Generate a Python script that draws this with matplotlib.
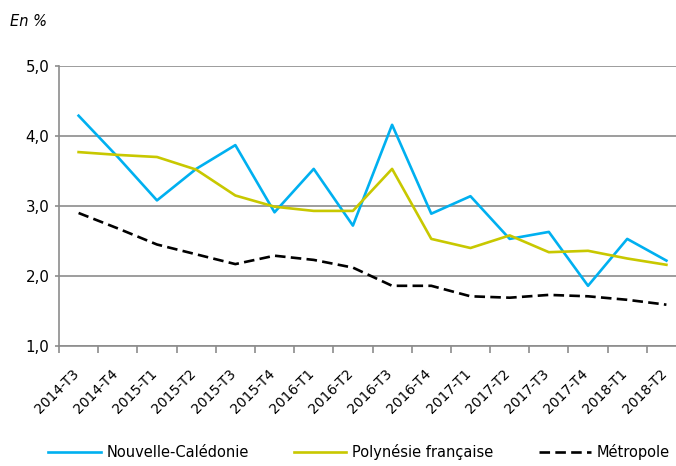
import numpy as np
import matplotlib
matplotlib.use("Agg")
import matplotlib.pyplot as plt
import matplotlib.transforms as mtransforms

# quarterly rates, in %
quarters = ["2014-T3", "2014-T4", "2015-T1", "2015-T2", "2015-T3", "2015-T4",
            "2016-T1", "2016-T2", "2016-T3", "2016-T4", "2017-T1", "2017-T2",
            "2017-T3", "2017-T4", "2018-T1", "2018-T2"]
nouvelle_caledonie = [4.29, 3.70, 3.08, 3.53, 3.87, 2.91, 3.53, 2.72,
                      4.16, 2.89, 3.14, 2.53, 2.63, 1.86, 2.53, 2.22]
polynesie = [3.77, 3.73, 3.70, 3.52, 3.15, 2.99, 2.93, 2.93,
             3.53, 2.53, 2.40, 2.58, 2.34, 2.36, 2.25, 2.16]
metropole = [2.90, 2.68, 2.45, 2.31, 2.17, 2.29, 2.23, 2.12,
             1.86, 1.86, 1.71, 1.69, 1.73, 1.71, 1.66, 1.59]

plt.rcParams['font.family'] = ['DejaVu Sans']

fig = plt.figure(figsize=(6.76, 4.66), dpi=100)
# right edge of the plot runs past the picture, as in the original
ax = fig.add_axes([59 / 676, 120 / 466, 627 / 676, 280 / 466])

x = np.arange(len(quarters))
grid_col = "#8c8c8c"

ax.plot(x, nouvelle_caledonie, color="#00b0f0", lw=1.9, label="Nouvelle-Calédonie")
ax.plot(x, polynesie, color="#c8c800", lw=1.9, label="Polynésie française")
ax.plot(x, metropole, color="black", lw=1.9, ls=(0, (4, 2)), label="Métropole")

ax.set_xlim(-0.5, len(quarters) - 0.5)
ax.set_ylim(1.0, 5.0)
ax.set_yticks([1.0, 2.0, 3.0, 4.0, 5.0])
ax.set_yticklabels(["1,0", "2,0", "3,0", "4,0", "5,0"], fontsize=10.8)
ax.yaxis.grid(True, color=grid_col, lw=1.2)
ax.set_axisbelow(True)

ax.set_xticks(x)
ax.set_xticklabels(quarters, rotation=45, ha="right", va="top", fontsize=10)
ax.set_xticks(np.arange(-0.5, len(quarters), 1.0), minor=True)
ax.tick_params(axis="x", which="major", length=0, pad=14.5)
ax.tick_params(axis="x", which="minor", length=5, color=grid_col, width=1.2)
ax.tick_params(axis="y", length=3, color=grid_col, width=1.2, pad=4)
shift = mtransforms.ScaledTranslation(3 / 100, 0, fig.dpi_scale_trans)
for lab in ax.get_xticklabels():
    lab.set_transform(lab.get_transform() + shift)

for side in ["top", "right"]:
    ax.spines[side].set_visible(False)
for side in ["left", "bottom"]:
    ax.spines[side].set_color(grid_col)
    ax.spines[side].set_linewidth(1.2)

fig.text(10 / 676, 1 - 22 / 466, "En %", fontsize=10.5, style="italic", va="center")

fig.legend(loc="center left", bbox_to_anchor=(48 / 676, 1 - 452 / 466), ncol=3,
           frameon=False, fontsize=10.5, handlelength=3.6, handletextpad=0.4,
           columnspacing=3.1, borderpad=0, borderaxespad=0)

fig.savefig("out.png", dpi=100)
